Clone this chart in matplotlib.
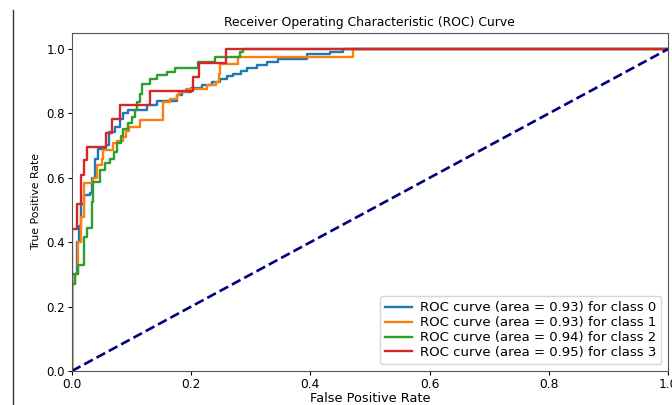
import numpy as np
import matplotlib
matplotlib.use("Agg")
import matplotlib.pyplot as plt
from matplotlib.lines import Line2D

# ROC corner points per class: (fpr, tpr) at the top of each vertical step
fpr0 = [0.0, 0.0, 0.008, 0.012, 0.015, 0.02, 0.031, 0.034, 0.039, 0.044, 0.057, 0.063, 0.072,
        0.081, 0.086, 0.094, 0.126, 0.142, 0.176, 0.185, 0.2, 0.218, 0.235, 0.248, 0.26,
        0.27, 0.283, 0.293, 0.31, 0.327, 0.346, 0.394, 0.433, 0.455, 1.0]
tpr0 = [0.0, 0.30, 0.40, 0.45, 0.52, 0.547, 0.552, 0.598, 0.66, 0.691, 0.702, 0.743, 0.759,
        0.784, 0.80, 0.81, 0.826, 0.84, 0.857, 0.868, 0.878, 0.888, 0.898, 0.908, 0.916,
        0.924, 0.932, 0.94, 0.95, 0.961, 0.97, 0.984, 0.992, 1.0, 1.0]

fpr1 = [0.0, 0.0, 0.005, 0.01, 0.016, 0.02, 0.036, 0.042, 0.05, 0.053, 0.069, 0.076, 0.086,
        0.09, 0.096, 0.114, 0.152, 0.165, 0.176, 0.18, 0.192, 0.226, 0.242, 0.247, 0.248,
        0.279, 0.472, 1.0]
tpr1 = [0.0, 0.27, 0.30, 0.40, 0.479, 0.583, 0.60, 0.64, 0.66, 0.686, 0.707, 0.715, 0.728,
        0.745, 0.757, 0.779, 0.836, 0.845, 0.857, 0.866, 0.875, 0.888, 0.898, 0.924, 0.955,
        0.976, 1.0, 1.0]

fpr2 = [0.0, 0.0, 0.005, 0.011, 0.02, 0.026, 0.034, 0.036, 0.047, 0.055, 0.064, 0.07, 0.076,
        0.082, 0.086, 0.094, 0.1, 0.106, 0.11, 0.114, 0.117, 0.131, 0.143, 0.159, 0.173,
        0.212, 0.24, 0.282, 0.287, 1.0]
tpr2 = [0.0, 0.27, 0.30, 0.33, 0.417, 0.444, 0.526, 0.588, 0.624, 0.646, 0.66, 0.68, 0.707,
        0.73, 0.753, 0.77, 0.788, 0.81, 0.836, 0.86, 0.893, 0.906, 0.919, 0.93, 0.94,
        0.96, 0.976, 0.992, 1.0, 1.0]

fpr3 = [0.0, 0.0, 0.009, 0.015, 0.02, 0.025, 0.058, 0.068, 0.08, 0.131, 0.203, 0.214, 0.258, 1.0]
tpr3 = [0.0, 0.44, 0.52, 0.61, 0.655, 0.695, 0.738, 0.783, 0.826, 0.87, 0.913, 0.957, 1.0, 1.0]

areas = [0.93, 0.93, 0.94, 0.95]
colors = ["#1f77b4", "#ff7f0e", "#2ca02c", "#d62728"]

fig = plt.figure(figsize=(6.72, 4.05), dpi=100)
ax = fig.add_axes([0.107, 0.084, 0.887, 0.8345])

curves = [(fpr0, tpr0), (fpr1, tpr1), (fpr2, tpr2), (fpr3, tpr3)]
for i, (f, t) in enumerate(curves):
    ax.plot(f, t, color=colors[i], lw=1.7, drawstyle="steps-post",
            label="ROC curve (area = %0.2f) for class %d" % (areas[i], i))

ax.plot([0, 1], [0, 1], color="navy", lw=1.9, ls="--")
ax.set_xlim(0.0, 1.0)
ax.set_ylim(0.0, 1.05)
ax.set_xlabel("False Positive Rate", fontsize=9.3, labelpad=1)
ax.set_ylabel("True Positive Rate", fontsize=7.8, labelpad=4)
ax.set_title("Receiver Operating Characteristic (ROC) Curve", fontsize=8.9, pad=5)
ax.tick_params(axis="x", labelsize=8.8, length=3, pad=2)
ax.tick_params(axis="y", labelsize=8.5, length=3, pad=2)
for s in ax.spines.values():
    s.set_color("#555555")
ax.legend(loc="lower right", fontsize=9.5, handlelength=2.0, borderpad=0.4,
          labelspacing=0.15, handletextpad=0.6, framealpha=0.8)

# thin border line on the left edge
fig.add_artist(Line2D([13 / 672, 13 / 672], [0.0, 1 - 10 / 405],
                      transform=fig.transFigure, color="#333333", lw=1.0))

fig.savefig("out.png", dpi=100)
